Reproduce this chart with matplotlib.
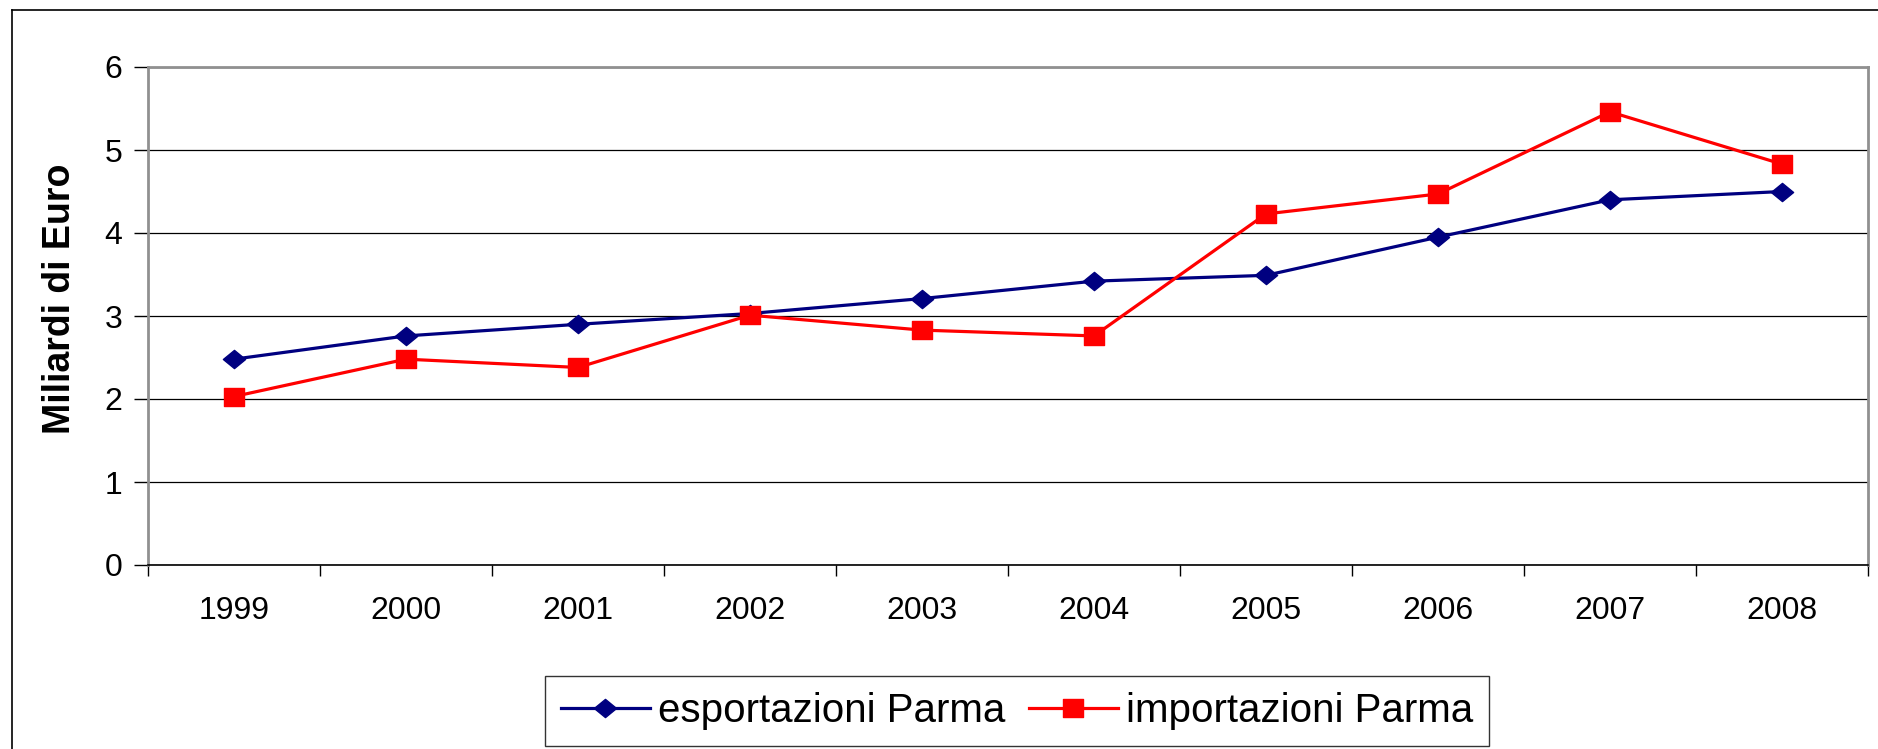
import numpy as np
import matplotlib
matplotlib.use("Agg")
import matplotlib.pyplot as plt
from matplotlib.lines import Line2D
from matplotlib.path import Path

# data (miliardi di euro)
anni = ['1999', '2000', '2001', '2002', '2003', '2004', '2005', '2006', '2007', '2008']
esportazioni = [2.48, 2.76, 2.90, 3.03, 3.21, 3.42, 3.49, 3.95, 4.40, 4.50]
importazioni = [2.03, 2.48, 2.38, 3.01, 2.83, 2.76, 4.23, 4.47, 5.46, 4.83]

plt.rcParams['font.family'] = ['Liberation Sans', 'DejaVu Sans']

# slightly flattened markers like the original
diamond = Path([(-1, 0), (0, 0.82), (1, 0), (0, -0.82), (-1, 0)],
               [Path.MOVETO, Path.LINETO, Path.LINETO, Path.LINETO, Path.CLOSEPOLY])
square = Path([(-1, -0.88), (1, -0.88), (1, 0.88), (-1, 0.88), (-1, -0.88)],
              [Path.MOVETO, Path.LINETO, Path.LINETO, Path.LINETO, Path.CLOSEPOLY])

fig = plt.figure(figsize=(18.78, 7.49), dpi=100)
ax = fig.add_axes([148/1878, 1 - 565/749, 1720/1878, 498/749])

x = np.arange(len(anni))
ax.plot(x, esportazioni, color='#000080', lw=2.3, marker=diamond, ms=16,
        label='esportazioni Parma')
ax.plot(x, importazioni, color='#ff0000', lw=2.3, marker=square, ms=14,
        label='importazioni Parma')

ax.set_xlim(-0.5, len(anni) - 0.5)
ax.set_ylim(0, 6)
ax.set_yticks(range(7))
ax.yaxis.grid(True, color='black', lw=0.9)
ax.set_axisbelow(True)

# category ticks between years, labels centred on the years
ax.set_xticks(np.arange(-0.5, len(anni)), minor=False)
ax.set_xticklabels([])
ax.set_xticks(x, minor=True)
ax.set_xticklabels(anni, minor=True)
ax.tick_params(axis='x', which='major', direction='out', length=8, width=1, color='black')
ax.tick_params(axis='x', which='minor', length=0, pad=22, labelsize=23)
ax.tick_params(axis='y', direction='out', length=10, width=1, pad=8.5, labelsize=23)

for s in ['top', 'right', 'left']:
    ax.spines[s].set_color('#909090')
    ax.spines[s].set_linewidth(2)
ax.spines['bottom'].set_color('black')
ax.spines['bottom'].set_linewidth(1.2)

# y label placed directly in figure pixels
fig.text(60/1878, 1 - 299/749, 'Miliardi di Euro', fontsize=27, fontweight='bold',
         rotation=90, ha='center', va='center')

leg = ax.legend(loc='center', bbox_to_anchor=(1017/1878, 1 - 711/749),
                bbox_transform=fig.transFigure, ncol=2, frameon=True,
                fancybox=False, edgecolor='black', handlelength=2.2,
                handletextpad=0.2, columnspacing=0.6, borderpad=0.4,
                prop={'size': 29})
leg.get_frame().set_linewidth(1)

# outer chart frame (runs off the right and bottom edges)
fig.add_artist(Line2D([12/1878, 12/1878], [0, 1 - 9.5/749], transform=fig.transFigure,
                      color='black', lw=1.2))
fig.add_artist(Line2D([12/1878, 1], [1 - 9.5/749, 1 - 9.5/749], transform=fig.transFigure,
                      color='black', lw=1.2))

fig.savefig('out.png', dpi=100)
